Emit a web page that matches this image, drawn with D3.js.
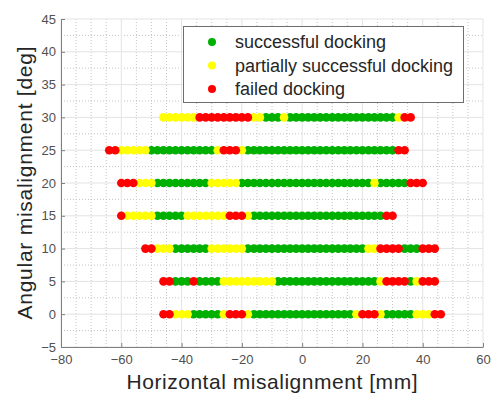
<!DOCTYPE html>
<html>
<head>
<meta charset="utf-8">
<script src="https://cdn.jsdelivr.net/npm/d3@7"></script>
<style>
  html, body { margin: 0; padding: 0; background: #fff; }
  svg { display: block; font-family: "Liberation Sans", Arial, Helvetica, sans-serif; }
</style>
</head>
<body>
<svg id="chart" width="497" height="394"></svg>
<script>
// Angular misalignment levels tested (deg), one row of trials each
const angles = [0, 5, 10, 15, 20, 25, 30];

// Horizontal offsets (mm) per angle row, grouped by docking outcome
const successful = [
  [-36,-34,-32,-30,-28,-16,-14,-12,-10,-8,-6,-4,-2,0,2,4,6,8,10,12,14,16,28,30,32,34,36],
  [-42,-40,-38,-34,-32,-30,-28,-8,-6,-4,-2,0,2,4,6,8,10,12,14,16,18,20,22,24,36],
  [-42,-40,-38,-36,-34,-32,-18,-16,-14,-12,-10,-8,-6,-4,-2,0,2,4,6,8,10,12,14,16,18,20,34,36,38],
  [-48,-46,-44,-42,-40,-16,-14,-12,-10,-8,-6,-4,-2,0,2,4,6,8,10,12,14,16,18,20,22,24,26],
  [-48,-46,-44,-42,-40,-38,-36,-34,-32,-20,-18,-16,-14,-12,-10,-8,-6,-4,-2,0,2,4,6,8,10,12,14,16,18,20,22,26,28,30,32,34],
  [-50,-48,-46,-44,-42,-40,-38,-36,-34,-32,-30,-18,-16,-14,-12,-10,-8,-6,-4,-2,0,2,4,6,8,10,12,14,16,18,20,22,24,26,28,30],
  [-12,-10,-8,-4,-2,0,2,4,6,8,10,12,14,16,18,20,22,24,26,28,30]
];
const partial = [
  [-42,-40,-38,-26,-18,18,26,38,40,42],
  [-26,-24,-22,-20,-18,-16,-14,-12,-10,26,38],
  [-48,-46,-44,-30,-28,-26,-24,-22,-20,22,24],
  [-58,-56,-54,-52,-50,-38,-36,-34,-32,-30,-28,-26,-18],
  [-54,-52,-50,-30,-28,-26,-24,-22,24],
  [-60,-58,-56,-54,-52,-28,-20],
  [-46,-44,-42,-40,-38,-36,-16,-14,-6,32]
];
const failed = [
  [-46,-44,-24,-22,-20,20,22,24,44,46],
  [-46,-44,-36,28,30,32,34,40,42,44],
  [-52,-50,26,28,30,32,40,42,44],
  [-60,-24,-22,-20,28,30],
  [-60,-58,-56,36,38,40],
  [-64,-62,-26,-24,-22,32,34],
  [-34,-32,-30,-28,-26,-24,-22,-20,-18,34,36]
];

const xTicks = [-80, -60, -40, -20, 0, 20, 40, 60];
const yTicks = [-5, 0, 5, 10, 15, 20, 25, 30, 35, 40, 45];
const xMinor = d3.range(-80, 60.01, 5);
const yMinor = d3.range(-5, 45.01, 2.5);

const outcomes = [
  { name: "successful docking", rows: successful, color: "#00b000" },
  { name: "partially successful docking", rows: partial, color: "#ffff00" },
  { name: "failed docking", rows: failed, color: "#ff0000" }
];

const svg = d3.select("#chart");
const plotL = 61, plotR = 483, plotT = 19, plotB = 347;

const x = d3.scaleLinear().domain([-80, 60]).range([plotL, plotR]);
const y = d3.scaleLinear().domain([-5, 45]).range([plotB, plotT]);

// minor grid (dotted)
const grid = svg.append("g");
grid.selectAll("line.mx").data(xMinor.filter(v => !xTicks.includes(v))).join("line")
  .attr("x1", d => x(d)).attr("x2", d => x(d)).attr("y1", plotT).attr("y2", plotB)
  .attr("stroke", "#c4c4c4").attr("stroke-width", 1).attr("stroke-dasharray", "1,2");
grid.selectAll("line.my").data(yMinor.filter(v => !yTicks.includes(v))).join("line")
  .attr("y1", d => y(d)).attr("y2", d => y(d)).attr("x1", plotL).attr("x2", plotR)
  .attr("stroke", "#c4c4c4").attr("stroke-width", 1).attr("stroke-dasharray", "1,2");

// major grid (solid, light)
grid.selectAll("line.gx").data(xTicks).join("line")
  .attr("x1", d => x(d)).attr("x2", d => x(d)).attr("y1", plotT).attr("y2", plotB)
  .attr("stroke", "#e3e3e3").attr("stroke-width", 1);
grid.selectAll("line.gy").data(yTicks).join("line")
  .attr("y1", d => y(d)).attr("y2", d => y(d)).attr("x1", plotL).attr("x2", plotR)
  .attr("stroke", "#e3e3e3").attr("stroke-width", 1);

// axes
const xAxis = d3.axisBottom(x).tickValues(xTicks).tickSizeInner(-4).tickSizeOuter(0).tickPadding(8);
const yAxis = d3.axisLeft(y).tickValues(yTicks).tickSizeInner(-4).tickSizeOuter(0).tickPadding(5);

const gx = svg.append("g").attr("transform", `translate(0,${plotB})`).call(xAxis);
const gy = svg.append("g").attr("transform", `translate(${plotL},0)`).call(yAxis);
[gx, gy].forEach(g => {
  g.select(".domain").attr("stroke", "#808080");
  g.selectAll(".tick line").attr("stroke", "#808080");
  g.selectAll(".tick text").attr("fill", "#505050").attr("font-size", 13)
    .attr("font-family", "Liberation Sans, Arial, sans-serif");
});

// markers: successful first, then partial, then failed on top
const marks = svg.append("g");
outcomes.forEach(o => {
  const pts = [];
  o.rows.forEach((row, i) => row.forEach(v => pts.push([v, angles[i]])));
  marks.append("g").selectAll("circle").data(pts).join("circle")
    .attr("cx", d => x(d[0])).attr("cy", d => y(d[1])).attr("r", 4.3)
    .attr("fill", o.color);
});

// legend
const lg = svg.append("g");
lg.append("rect").attr("x", 183.5).attr("y", 26.5).attr("width", 280).attr("height", 76)
  .attr("fill", "#fff").attr("stroke", "#6e6e6e").attr("stroke-width", 1);
outcomes.forEach((o, i) => {
  const cy = 42 + i * 23.5;
  lg.append("circle").attr("cx", 212).attr("cy", cy).attr("r", 4).attr("fill", o.color);
  lg.append("text").attr("x", 235).attr("y", cy).attr("dy", "0.35em")
    .attr("font-size", 18).attr("fill", "#262626").text(o.name);
});

// axis titles
svg.append("text").attr("x", (plotL + plotR) / 2).attr("y", 389)
  .attr("text-anchor", "middle").attr("font-size", 21).attr("fill", "#262626")
  .attr("textLength", 291).attr("lengthAdjust", "spacing")
  .text("Horizontal misalignment [mm]");
svg.append("text").attr("transform", `translate(32,${(plotT + plotB) / 2}) rotate(-90)`)
  .attr("text-anchor", "middle").attr("font-size", 21).attr("fill", "#262626")
  .attr("textLength", 273).attr("lengthAdjust", "spacing")
  .text("Angular misalignment [deg]");
</script>
</body>
</html>
